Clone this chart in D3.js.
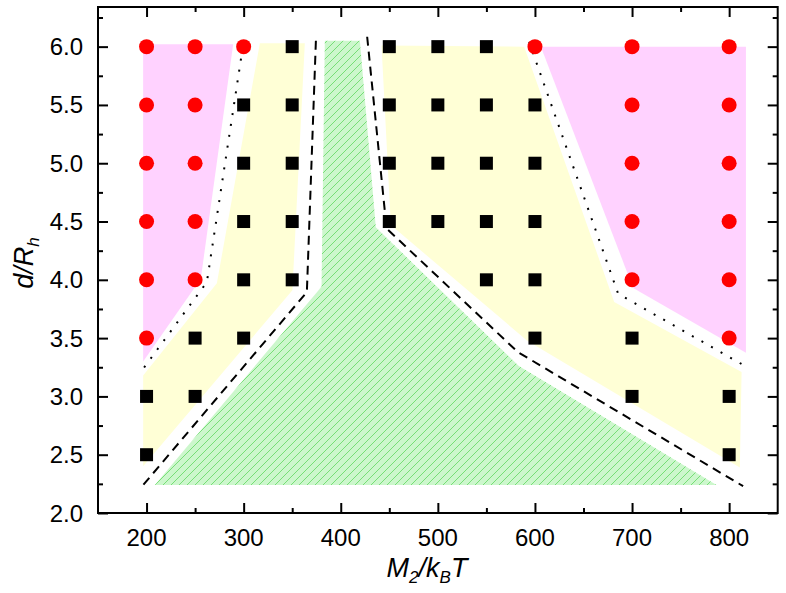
<!DOCTYPE html>
<html><head><meta charset="utf-8">
<script src="https://cdn.jsdelivr.net/npm/d3@7/dist/d3.min.js"></script>
<style>body{margin:0;background:#fff}svg{display:block}text{font-family:"Liberation Sans",Arial,sans-serif}</style>
</head><body><svg id="c" width="786" height="593"></svg>
<script>
// ---- data ----
const xTicks = [200, 300, 400, 500, 600, 700, 800];
const yTicks = [2.0, 2.5, 3.0, 3.5, 4.0, 4.5, 5.0, 5.5, 6.0];
const redPoints = [
  [200,6.0],[250,6.0],[300,6.0],[200,5.5],[250,5.5],[200,5.0],[250,5.0],
  [200,4.5],[250,4.5],[200,4.0],[250,4.0],[200,3.5],
  [600,6.0],[700,6.0],[700,5.5],[700,5.0],[700,4.5],[700,4.0],
  [800,6.0],[800,5.5],[800,5.0],[800,4.5],[800,4.0],[800,3.5]
];
const blackPoints = [
  [200,3.0],[200,2.5],[250,3.5],[250,3.0],
  [300,5.5],[300,5.0],[300,4.5],[300,4.0],[300,3.5],
  [350,6.0],[350,5.5],[350,5.0],[350,4.5],[350,4.0],
  [450,6.0],[450,5.5],[450,5.0],[450,4.5],
  [500,6.0],[500,5.5],[500,5.0],[500,4.5],
  [550,6.0],[550,5.5],[550,5.0],[550,4.5],[550,4.0],
  [600,5.5],[600,5.0],[600,4.5],[600,4.0],[600,3.5],
  [700,3.5],[700,3.0],[800,3.0],[800,2.5]
];
const magentaLeft = [[196.5,6.02],[289.2,6.02],[255.9,4.01],[196.5,3.30]];
const yellowLeft = [[316.7,6.03],[363,6.03],[350.2,3.91],[196.5,2.40],[196.5,3.18],[272.4,3.97]];
const greenRegion = [[383.6,6.05],[419.7,6.05],[436.1,4.45],[583.4,3.26],[787,2.24],[208.5,2.24],[380.2,3.94]];
const yellowRight = [[442,6.01],[588.9,6.0],[681.6,3.81],[812.8,3.21],[811,2.39],[591.7,3.48],[451.6,4.47]];
const magentaRight = [[606.1,6.0],[817.3,6.0],[817.3,3.375],[701.1,3.93]];
const dashLeft = [[374.4,6.05],[365.1,3.895],[195.9,2.234]];
const dashRight = [[427.2,6.085],[447.2,4.44],[582.4,3.38],[814.4,2.23]];
const dotLeft = [[299,5.99],[262.1,3.98],[195.9,3.23]];
const dotRight = [[594,6.04],[685.7,3.88],[814.4,3.27]];

// ---- layout ----
const L = 98, R = 777.7, T = 7, B = 513;
const x = d3.scaleLinear().domain([150, 850]).range([L, R]);
const y = d3.scaleLinear().domain([2, 6.34]).range([B, T]);
const svg = d3.select('#c');

const defs = svg.append('defs');
const pat = defs.append('pattern').attr('id','hatch').attr('patternUnits','userSpaceOnUse')
  .attr('width',8).attr('height',8);
pat.append('rect').attr('width',8).attr('height',8).attr('fill','#ccf7cc');
pat.append('path').attr('d','M-2,2 L2,-2 M0,8 L8,0 M6,10 L10,6').attr('stroke','#6ddb6d').attr('stroke-width',0.9);

const line = d3.line().x(d => x(d[0])).y(d => y(d[1]));
const poly = (pts, fill) => svg.append('path').attr('d', line(pts) + 'Z').attr('fill', fill);
poly(magentaLeft, '#ffd2ff');
poly(magentaRight, '#ffd2ff');
poly(yellowLeft, '#ffffd6');
poly(yellowRight, '#ffffd6');
poly(greenRegion, 'url(#hatch)');

const stroke = (pts, dash) => svg.append('path').attr('d', line(pts)).attr('fill','none')
  .attr('stroke','#000').attr('stroke-width',2).attr('stroke-dasharray',dash);
stroke(dashLeft, '9,6');
stroke(dashRight, '9,6');
stroke(dotLeft, '2,9');
stroke(dotRight, '2,9');

// points
svg.append('g').selectAll('circle').data(redPoints).join('circle')
  .attr('cx', d => x(d[0])).attr('cy', d => y(d[1])).attr('r', 7.5).attr('fill', '#ff0000');
const s = 13;
svg.append('g').selectAll('rect').data(blackPoints).join('rect')
  .attr('x', d => x(d[0]) - s/2).attr('y', d => y(d[1]) - s/2).attr('width', s).attr('height', s).attr('fill', '#000');

// axes (ticks inward)
const xMinor = d3.range(250, 850, 100);
const yMinor = d3.range(2.25, 6.34, 0.5);
function ax(gen, tr){ return svg.append('g').attr('transform', tr).call(gen).call(g => g.select('.domain').remove()); }
const tickStyle = g => g.selectAll('line').attr('stroke','#000').attr('stroke-width',2);
ax(d3.axisTop(x).tickValues(xTicks).tickSize(10).tickFormat(''), `translate(0,${B})`).call(tickStyle);
ax(d3.axisTop(x).tickValues(xMinor).tickSize(5).tickFormat(''), `translate(0,${B})`).call(tickStyle);
ax(d3.axisBottom(x).tickValues(xTicks).tickSize(10).tickFormat(''), `translate(0,${T})`).call(tickStyle);
ax(d3.axisBottom(x).tickValues(xMinor).tickSize(5).tickFormat(''), `translate(0,${T})`).call(tickStyle);
ax(d3.axisRight(y).tickValues(yTicks).tickSize(10).tickFormat(''), `translate(${L},0)`).call(tickStyle);
ax(d3.axisRight(y).tickValues(yMinor).tickSize(5).tickFormat(''), `translate(${L},0)`).call(tickStyle);
ax(d3.axisLeft(y).tickValues(yTicks).tickSize(10).tickFormat(''), `translate(${R},0)`).call(tickStyle);
ax(d3.axisLeft(y).tickValues(yMinor).tickSize(5).tickFormat(''), `translate(${R},0)`).call(tickStyle);

svg.append('rect').attr('x',L).attr('y',T).attr('width',R-L).attr('height',B-T)
  .attr('fill','none').attr('stroke','#000').attr('stroke-width',2);

// tick labels
svg.append('g').selectAll('text').data(xTicks).join('text')
  .attr('x', d => x(d)).attr('y', 546).attr('text-anchor','middle').attr('font-size',24).text(d => d);
svg.append('g').selectAll('text').data(yTicks).join('text')
  .attr('x', 83).attr('y', d => y(d) + 8.5).attr('text-anchor','end').attr('font-size',24).text(d => d.toFixed(1));

// axis titles
const xt = svg.append('text').attr('x', 427).attr('y', 577).attr('text-anchor','middle')
  .attr('font-size',27).attr('font-style','italic');
xt.append('tspan').text('M');
xt.append('tspan').attr('font-size',17).attr('dy',6).text('2');
xt.append('tspan').attr('dy',-6).text('/k');
xt.append('tspan').attr('font-size',17).attr('dy',6).text('B');
xt.append('tspan').attr('dy',-6).text('T');

const yt = svg.append('text').attr('transform','translate(33,263) rotate(-90)').attr('text-anchor','middle')
  .attr('font-size',27).attr('font-style','italic');
yt.append('tspan').text('d/R');
yt.append('tspan').attr('font-size',17).attr('dy',6).text('h');
</script></body></html>
